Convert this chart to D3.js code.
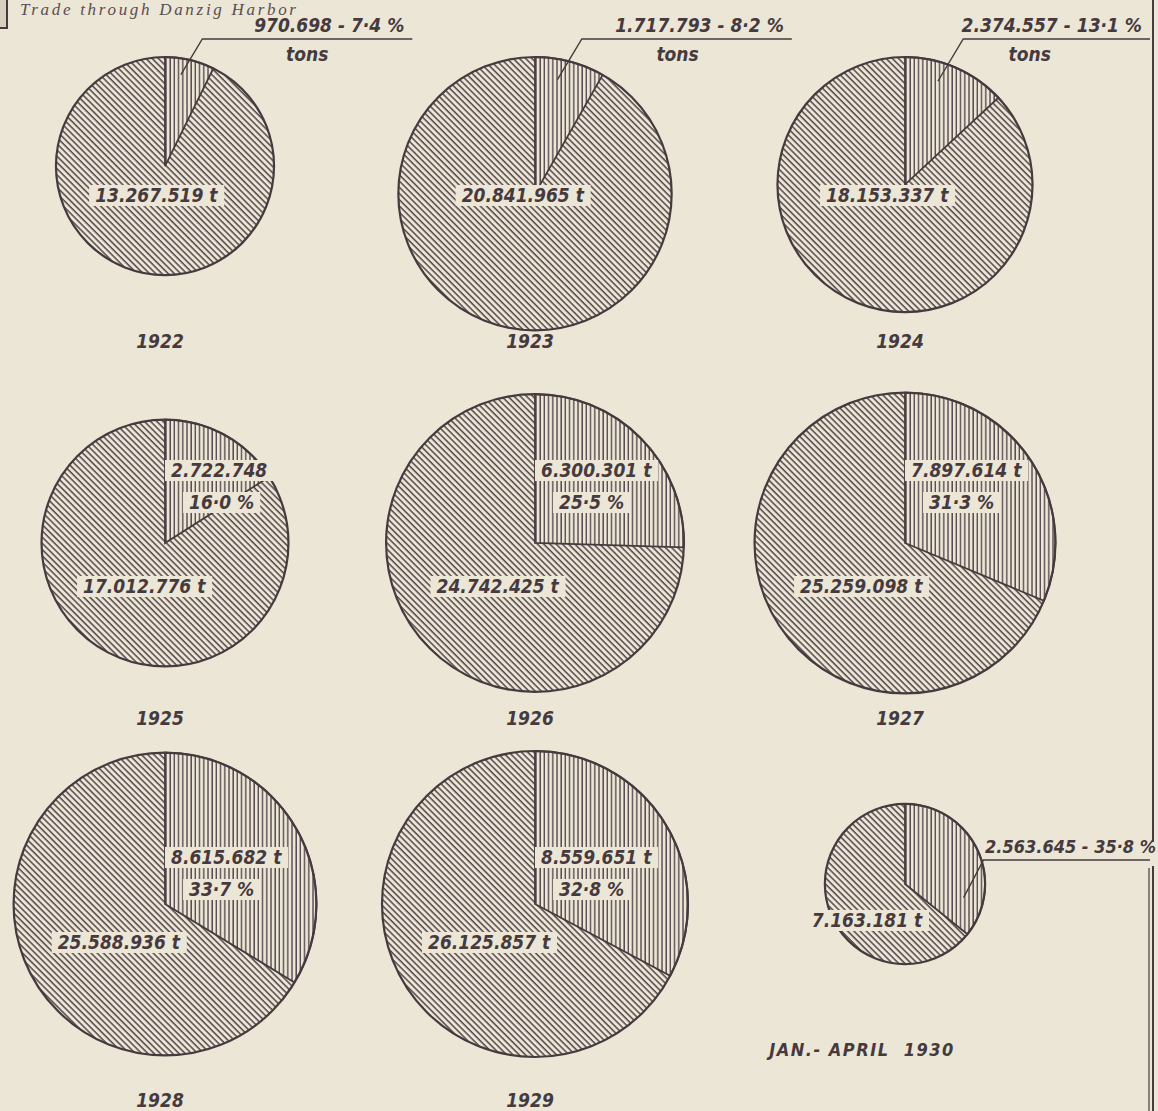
<!DOCTYPE html>
<head>
  <meta charset="utf-8">
  <script src="https://d3js.org/d3.v7.min.js"></script>
  <style>
    body { margin: 0; background: #ebe6d6; }
    svg { display: block; }
    .hand { font-family: 'DejaVu Sans Condensed', 'DejaVu Sans', sans-serif; font-style: italic; font-weight: bold; fill: #463a3e; }
  </style>
</head>

<body>
  <svg></svg>

  <script>
    const width = 1158;
    const height = 1111;

    // tonnage per year: main trade (diagonal hatch) and the other share (vertical hatch)
    const years = ['1922', '1923', '1924', '1925', '1926', '1927', '1928', '1929', 'JAN.- APRIL  1930'];
    const mainTons = [13267519, 20841965, 18153337, 17012776, 24742425, 25259098, 25588936, 26125857, 7163181];
    const otherTons = [970698, 1717793, 2374557, 2722748, 6300301, 7897614, 8615682, 8559651, 2563645];
    const shareLabels = ['7·4 %', '8·2 %', '13·1 %', '16·0 %', '25·5 %', '31·3 %', '33·7 %', '32·8 %', '35·8 %'];
    const otherSuffix = ['', '', '', '', ' t', ' t', ' t', ' t', ''];

    const ink = '#463a3e';
    const paper = '#ebe6d6';

    const svg = d3.select('svg').attr('width', width).attr('height', height);

    const fmt = d3.formatLocale({ decimal: ',', thousands: '.', grouping: [3], currency: ['', ''] }).format(',d');

    /*****************************************************
    ** hatch patterns
    ******************************************************/
    const defs = svg.append('defs');
    defs.append('pattern')
      .attr('id', 'vert')
      .attr('patternUnits', 'userSpaceOnUse')
      .attr('width', 4.2).attr('height', 10)
      .append('line')
      .attr('x1', 1).attr('x2', 1).attr('y1', 0).attr('y2', 10)
      .attr('stroke', '#54464b').attr('stroke-width', 1.4);
    defs.append('pattern')
      .attr('id', 'diag')
      .attr('patternUnits', 'userSpaceOnUse')
      .attr('patternTransform', 'rotate(-45)')
      .attr('width', 4.4).attr('height', 10)
      .append('line')
      .attr('x1', 1).attr('x2', 1).attr('y1', 0).attr('y2', 10)
      .attr('stroke', '#54464b').attr('stroke-width', 1.5);

    /*****************************************************
    ** layout
    ******************************************************/
    const col = d3.scalePoint().domain([0, 1, 2]).range([165, 905]);
    const radius = d3.scaleSqrt().domain([0, d3.max(mainTons)]).range([0, 153]);
    const yearY = [348, 725, 1107];
    const mainLabelY = [195, 586, 942];
    const innerLabelDy = [0, -57, -31];
    const leaderY = 39;

    const pies = years.map((year, i) => {
      const row = Math.floor(i / 3);
      const r = radius(mainTons[i]);
      const share = otherTons[i] / mainTons[i];
      let cy = row === 0 ? 57 + r : (row === 1 ? 543 : 904);
      if (i === 8) cy = 884;
      return { i, year, row, r, share, cx: col(i % 3), cy };
    });

    const arc = d3.arc().innerRadius(0);

    // title bit at the top
    svg.append('rect')
      .attr('x', -2).attr('y', -2).attr('width', 9).attr('height', 30)
      .attr('fill', '#d9cfbf').attr('stroke', ink).attr('stroke-width', 2);
    svg.append('text')
      .attr('x', 20).attr('y', 15)
      .attr('font-family', 'Liberation Serif, serif')
      .attr('font-style', 'italic')
      .attr('font-size', 17)
      .attr('letter-spacing', 2.7)
      .attr('fill', '#5a4d50')
      .text('Trade through Danzig Harbor');

    // right frame line
    svg.append('line')
      .attr('x1', 1153).attr('x2', 1153).attr('y1', 0).attr('y2', 842)
      .attr('stroke', ink).attr('stroke-width', 2);
    svg.append('line')
      .attr('x1', 1153).attr('x2', 1153).attr('y1', 866).attr('y2', height)
      .attr('stroke', ink).attr('stroke-width', 2);
    svg.append('line')
      .attr('x1', 1149).attr('x2', 1149).attr('y1', 868).attr('y2', height)
      .attr('stroke', ink).attr('stroke-width', 1.2);

    const g = svg.selectAll('g.pie')
      .data(pies).enter().append('g')
      .attr('class', 'pie')
      .attr('transform', d => `translate(${d.cx},${d.cy})`);

    g.append('path')
      .attr('d', d => arc({ outerRadius: d.r, startAngle: d.share * 2 * Math.PI, endAngle: 2 * Math.PI }))
      .attr('fill', 'url(#diag)');
    g.append('path')
      .attr('d', d => arc({ outerRadius: d.r, startAngle: 0, endAngle: d.share * 2 * Math.PI }))
      .attr('fill', 'url(#vert)')
      .attr('stroke', ink).attr('stroke-width', 1.8);
    g.append('circle')
      .attr('r', d => d.r)
      .attr('fill', 'none').attr('stroke', ink).attr('stroke-width', 2.2);

    // boxed label helper
    function boxed(sel, x, y, txt, size, anchor) {
      const t = sel.append('text')
        .attr('class', 'hand')
        .attr('x', x).attr('y', y)
        .attr('font-size', size)
        .attr('text-anchor', anchor)
        .attr('dominant-baseline', 'central')
        .text(txt);
      const b = t.node().getBBox();
      sel.insert('rect', () => t.node())
        .attr('x', b.x - 6).attr('y', b.y + 1)
        .attr('width', b.width + 12).attr('height', b.height - 1)
        .attr('fill', paper);
    }

    // main tonnage label, along the middle of the big slice
    g.each(function (d) {
      const sel = d3.select(this);
      const mid = Math.PI + d.share * Math.PI;
      const x = d.i === 8 ? -38 : Math.sin(mid) * d.r * 0.35;
      const y = d.i === 8 ? 36 : mainLabelY[d.row] - d.cy;
      boxed(sel, x, y, fmt(mainTons[d.i]) + ' t', 19, 'middle');
    });

    // other share labels
    g.each(function (d) {
      const sel = d3.select(this);
      const slice = d.share * 2 * Math.PI;
      if (d.row === 0 || d.i === 8) {
        const a = d.i === 8 ? slice * 0.8 : slice * 0.375;
        const k = d.i === 8 ? 0.75 : 0.85;
        const sx = Math.sin(a) * d.r * k;
        const sy = -Math.cos(a) * d.r * k;
        let ex, ey, lx2;
        if (d.i === 8) {
          ey = -24; ex = sx + 20; lx2 = 1150 - d.cx;
        } else {
          ey = leaderY - d.cy; ex = sx + (sy - ey) * 0.6;
          lx2 = Math.min(ex + 210, 1150 - d.cx);
        }
        sel.append('path')
          .attr('d', `M${sx},${sy}L${ex},${ey}L${lx2},${ey}`)
          .attr('fill', 'none').attr('stroke', ink).attr('stroke-width', 1.4);
        const t = sel.append('text')
          .attr('class', 'hand')
          .attr('x', d.i === 8 ? lx2 + 6 : lx2 - 8).attr('y', ey - 7)
          .attr('font-size', d.i === 8 ? 18 : 19)
          .attr('text-anchor', 'end')
          .text(fmt(otherTons[d.i]) + ' - ' + shareLabels[d.i]);
        if (d.i !== 8) {
          const b = t.node().getBBox();
          sel.append('text')
            .attr('class', 'hand')
            .attr('x', b.x + b.width / 2 - 22).attr('y', ey + 22)
            .attr('font-size', 19)
            .attr('text-anchor', 'middle')
            .text('tons');
        }
      } else {
        const y0 = innerLabelDy[d.row];
        boxed(sel, 6, y0 - 16, fmt(otherTons[d.i]) + otherSuffix[d.i], 19, 'start');
        boxed(sel, 24, y0 + 16, shareLabels[d.i], 19, 'start');
      }
    });

    // year captions
    svg.selectAll('text.year')
      .data(pies).enter().append('text')
      .attr('class', 'hand year')
      .attr('x', d => d.i === 8 ? d.cx - 43 : d.cx - 5)
      .attr('y', d => d.i === 8 ? 1056 : yearY[d.row])
      .attr('text-anchor', 'middle')
      .attr('font-size', d => d.i === 8 ? 18 : 19)
      .attr('font-weight', d => d.i === 8 ? 'normal' : 'bold')
      .attr('letter-spacing', d => d.i === 8 ? 1.5 : 0)
      .style('white-space', 'pre')
      .text(d => d.year);
  </script>
</body>
